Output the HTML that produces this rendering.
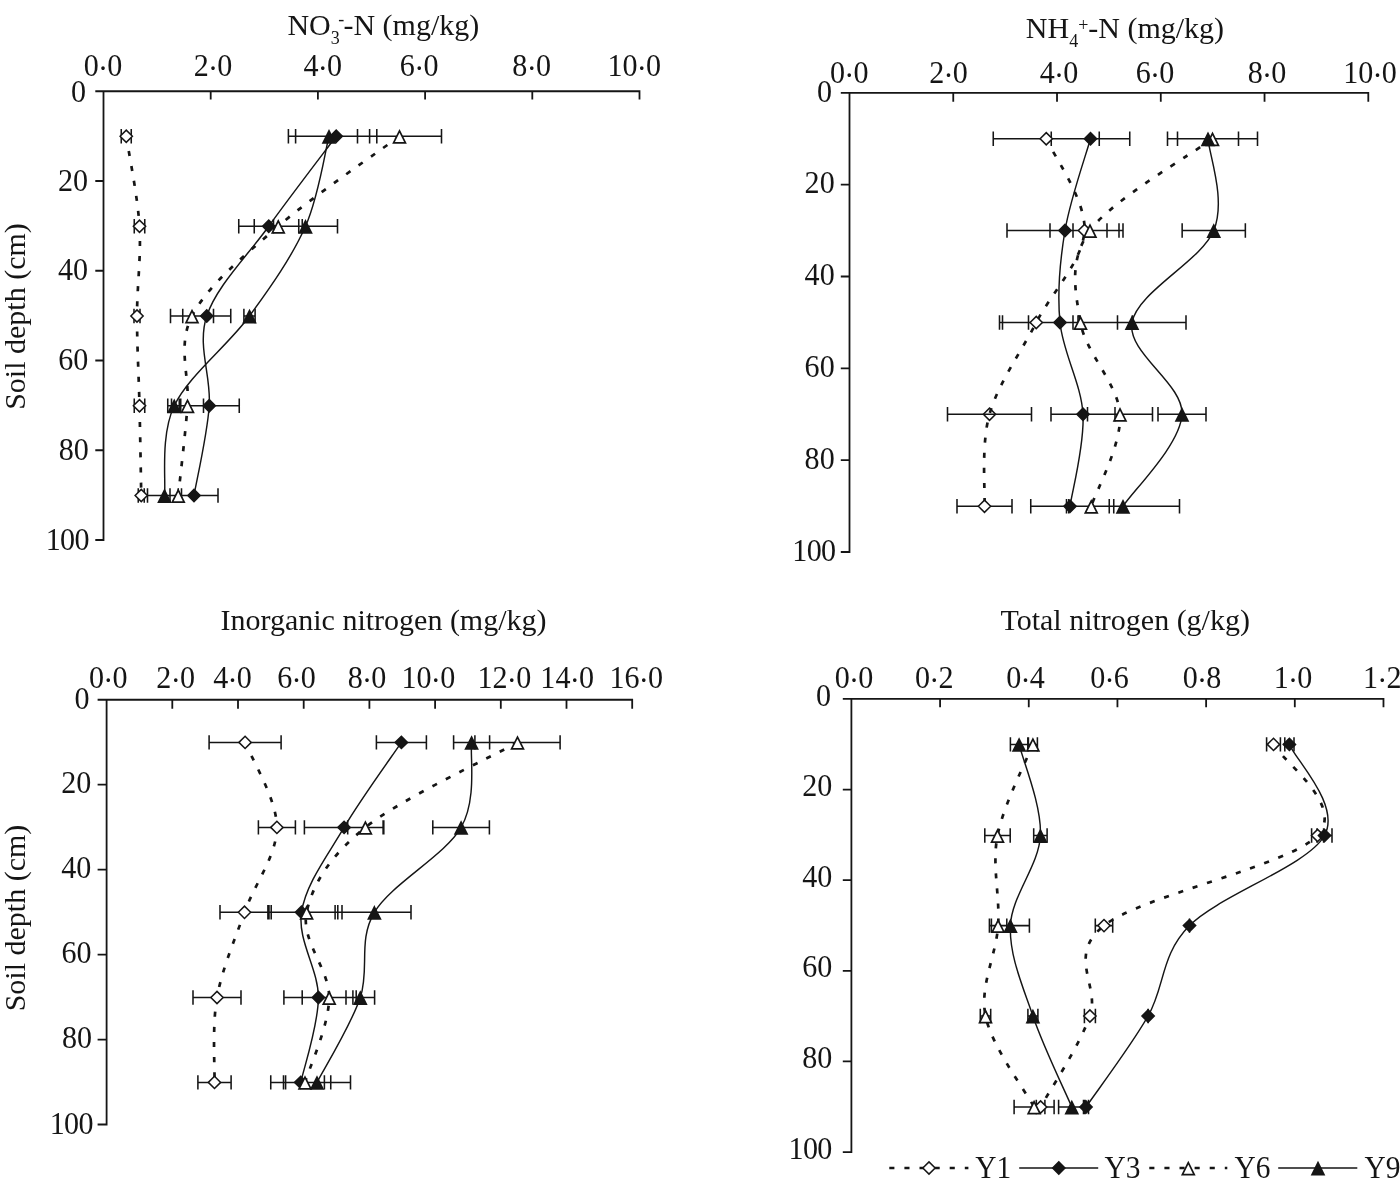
<!DOCTYPE html>
<html><head><meta charset="utf-8"><title>Soil nitrogen profiles</title>
<style>
html,body{margin:0;padding:0;background:#fff}
svg{display:block;filter:grayscale(1)}
text{font-family:"Liberation Serif",serif;fill:#151515}
</style></head>
<body>
<svg width="1400" height="1184" viewBox="0 0 1400 1184">
<rect width="1400" height="1184" fill="#fff"/>
<path d="M95.3 91.25H640.4M103.5 91.25V540.9M210.7 91.25V99.45M317.9 91.25V99.45M425.1 91.25V99.45M532.3 91.25V99.45M639.5 91.25V99.45M95.3 181H103.5M95.3 270.75H103.5M95.3 360.5H103.5M95.3 450.25H103.5M95.3 540H103.5" fill="none" stroke="#151515" stroke-width="1.8"/>
<path d="M121.25 136.25H131.25M121.25 129.05V143.45M131.25 129.05V143.45M134.25 226.25H144.75M134.25 219.05V233.45M144.75 219.05V233.45M134 316H140M134 308.8V323.2M140 308.8V323.2M134.25 405.75H144.75M134.25 398.55V412.95M144.75 398.55V412.95M138.25 495.5H144.25M138.25 488.3V502.7M144.25 488.3V502.7M295.6 136.25H376.8M295.6 129.05V143.45M376.8 129.05V143.45M238.75 226.25H298.75M238.75 219.05V233.45M298.75 219.05V233.45M182.75 316H230.75M182.75 308.8V323.2M230.75 308.8V323.2M179.25 405.75H239.25M179.25 398.55V412.95M239.25 398.55V412.95M170 495.5H218M170 488.3V502.7M218 488.3V502.7M357.5 136.25H441.5M357.5 129.05V143.45M441.5 129.05V143.45M254.25 226.25H302.25M254.25 219.05V233.45M302.25 219.05V233.45M170.5 316H213.5M170.5 308.8V323.2M213.5 308.8V323.2M171.5 405.75H203.5M171.5 398.55V412.95M203.5 398.55V412.95M178.25 495.5H178.25M178.25 488.3V502.7M178.25 488.3V502.7M288.4 136.25H369.6M288.4 129.05V143.45M369.6 129.05V143.45M273.5 226.25H337.5M273.5 219.05V233.45M337.5 219.05V233.45M243.9 316H255.1M243.9 308.8V323.2M255.1 308.8V323.2M167.75 405.75H180.75M167.75 398.55V412.95M180.75 398.55V412.95M147.5 495.5H181.5M147.5 488.3V502.7M181.5 488.3V502.7" fill="none" stroke="#151515" stroke-width="1.55"/>
<path d="M126.25 136.25C128.46 151.25 137.71 196.29 139.5 226.25C141.29 256.21 137 286.08 137 316C137 345.92 138.79 375.83 139.5 405.75C140.21 435.67 140.96 480.54 141.25 495.5" fill="none" stroke="#151515" stroke-width="2.7" stroke-dasharray="5.1 10"/>
<path d="M120.1 136.25l6.15 -6.15l6.15 6.15l-6.15 6.15z" fill="#fff" stroke="#151515" stroke-width="1.5"/>
<path d="M133.35 226.25l6.15 -6.15l6.15 6.15l-6.15 6.15z" fill="#fff" stroke="#151515" stroke-width="1.5"/>
<path d="M130.85 316l6.15 -6.15l6.15 6.15l-6.15 6.15z" fill="#fff" stroke="#151515" stroke-width="1.5"/>
<path d="M133.35 405.75l6.15 -6.15l6.15 6.15l-6.15 6.15z" fill="#fff" stroke="#151515" stroke-width="1.5"/>
<path d="M135.1 495.5l6.15 -6.15l6.15 6.15l-6.15 6.15z" fill="#fff" stroke="#151515" stroke-width="1.5"/>
<path d="M336.2 136.25C324.96 151.25 290.32 196.29 268.75 226.25C247.18 256.21 216.67 286.08 206.75 316C196.83 345.92 211.38 375.83 209.25 405.75C207.12 435.67 196.54 480.54 194 495.5" fill="none" stroke="#151515" stroke-width="1.45"/>
<path d="M330.05 136.25l6.15 -6.15l6.15 6.15l-6.15 6.15z" fill="#151515" stroke="#151515" stroke-width="1.5"/>
<path d="M262.6 226.25l6.15 -6.15l6.15 6.15l-6.15 6.15z" fill="#151515" stroke="#151515" stroke-width="1.5"/>
<path d="M200.6 316l6.15 -6.15l6.15 6.15l-6.15 6.15z" fill="#151515" stroke="#151515" stroke-width="1.5"/>
<path d="M203.1 405.75l6.15 -6.15l6.15 6.15l-6.15 6.15z" fill="#151515" stroke="#151515" stroke-width="1.5"/>
<path d="M187.85 495.5l6.15 -6.15l6.15 6.15l-6.15 6.15z" fill="#151515" stroke="#151515" stroke-width="1.5"/>
<path d="M399.5 136.25C379.29 151.25 312.83 196.29 278.25 226.25C243.67 256.21 207.12 286.08 192 316C176.88 345.92 189.79 375.83 187.5 405.75C185.21 435.67 179.79 480.54 178.25 495.5" fill="none" stroke="#151515" stroke-width="2.7" stroke-dasharray="5.1 10"/>
<path d="M399.5 130.96L405.45 142.81L393.55 142.81z" fill="#fff" stroke="#151515" stroke-width="1.7"/>
<path d="M278.25 220.96L284.2 232.81L272.3 232.81z" fill="#fff" stroke="#151515" stroke-width="1.7"/>
<path d="M192 310.71L197.95 322.56L186.05 322.56z" fill="#fff" stroke="#151515" stroke-width="1.7"/>
<path d="M187.5 400.46L193.45 412.31L181.55 412.31z" fill="#fff" stroke="#151515" stroke-width="1.7"/>
<path d="M178.25 490.21L184.2 502.06L172.3 502.06z" fill="#fff" stroke="#151515" stroke-width="1.7"/>
<path d="M329 136.25C325.08 151.25 318.75 196.29 305.5 226.25C292.25 256.21 271.38 286.08 249.5 316C227.62 345.92 188.42 375.83 174.25 405.75C160.08 435.67 166.12 480.54 164.5 495.5" fill="none" stroke="#151515" stroke-width="1.45"/>
<path d="M329 130.96L334.95 142.81L323.05 142.81z" fill="#151515" stroke="#151515" stroke-width="1.7"/>
<path d="M305.5 220.96L311.45 232.81L299.55 232.81z" fill="#151515" stroke="#151515" stroke-width="1.7"/>
<path d="M249.5 310.71L255.45 322.56L243.55 322.56z" fill="#151515" stroke="#151515" stroke-width="1.7"/>
<path d="M174.25 400.46L180.2 412.31L168.3 412.31z" fill="#151515" stroke="#151515" stroke-width="1.7"/>
<path d="M164.5 490.21L170.45 502.06L158.55 502.06z" fill="#151515" stroke="#151515" stroke-width="1.7"/>
<text transform="translate(83.65 75.6) scale(0.94 1)" font-size="32">0<tspan dx="-0.8" dy="2.9">·</tspan><tspan dx="-0.8" dy="-2.9">0</tspan></text>
<text transform="translate(193.65 75.6) scale(0.94 1)" font-size="32">2<tspan dx="-0.8" dy="2.9">·</tspan><tspan dx="-0.8" dy="-2.9">0</tspan></text>
<text transform="translate(303.55 75.6) scale(0.94 1)" font-size="32">4<tspan dx="-0.8" dy="2.9">·</tspan><tspan dx="-0.8" dy="-2.9">0</tspan></text>
<text transform="translate(399.85 75.6) scale(0.94 1)" font-size="32">6<tspan dx="-0.8" dy="2.9">·</tspan><tspan dx="-0.8" dy="-2.9">0</tspan></text>
<text transform="translate(512.35 75.6) scale(0.94 1)" font-size="32">8<tspan dx="-0.8" dy="2.9">·</tspan><tspan dx="-0.8" dy="-2.9">0</tspan></text>
<text transform="translate(607.45 75.6) scale(0.94 1)" font-size="32">10<tspan dx="-0.8" dy="2.9">·</tspan><tspan dx="-0.8" dy="-2.9">0</tspan></text>
<text transform="translate(71 101.65) scale(0.94 1)" font-size="32">0</text>
<text transform="translate(57.9 190.8) scale(0.94 1)" font-size="32">20</text>
<text transform="translate(57.9 280.25) scale(0.94 1)" font-size="32">40</text>
<text transform="translate(58.2 370.2) scale(0.94 1)" font-size="32">60</text>
<text transform="translate(58.8 459.95) scale(0.94 1)" font-size="32">80</text>
<text transform="translate(45.7 549.7) scale(0.94 1)" font-size="32" letter-spacing="-0.7">100</text>
<path d="M840.8 92.8H1369.2M849.5 92.8V552.9M953.26 92.8V101.8M1057.02 92.8V101.8M1160.78 92.8V101.8M1264.54 92.8V101.8M1368.3 92.8V101.8M840.8 184.64H849.5M840.8 276.48H849.5M840.8 368.32H849.5M840.8 460.16H849.5M840.8 552H849.5" fill="none" stroke="#151515" stroke-width="1.8"/>
<path d="M993.25 138.75H1099.25M993.25 131.55V145.95M1099.25 131.55V145.95M1050 230.5H1119M1050 223.3V237.7M1119 223.3V237.7M999.5 322.5H1073M999.5 315.3V329.7M1073 315.3V329.7M947.5 414.25H1031.5M947.5 407.05V421.45M1031.5 407.05V421.45M957 506.25H1012M957 499.05V513.45M1012 499.05V513.45M1051.25 138.75H1129.75M1051.25 131.55V145.95M1129.75 131.55V145.95M1007 230.5H1123M1007 223.3V237.7M1123 223.3V237.7M1002.5 322.5H1117.5M1002.5 315.3V329.7M1117.5 315.3V329.7M1051 414.25H1115M1051 407.05V421.45M1115 407.05V421.45M1030.75 506.25H1109.25M1030.75 499.05V513.45M1109.25 499.05V513.45M1167.5 138.75H1257.5M1167.5 131.55V145.95M1257.5 131.55V145.95M1073 230.5H1107M1073 223.3V237.7M1107 223.3V237.7M1028.5 322.5H1132.5M1028.5 315.3V329.7M1132.5 315.3V329.7M1087.5 414.25H1152.5M1087.5 407.05V421.45M1152.5 407.05V421.45M1068.75 506.25H1113.75M1068.75 499.05V513.45M1113.75 499.05V513.45M1177.5 138.75H1238.5M1177.5 131.55V145.95M1238.5 131.55V145.95M1182.15 230.5H1245.35M1182.15 223.3V237.7M1245.35 223.3V237.7M1078 322.5H1186M1078 315.3V329.7M1186 315.3V329.7M1158 414.25H1206M1158 407.05V421.45M1206 407.05V421.45M1066.5 506.25H1179.5M1066.5 499.05V513.45M1179.5 499.05V513.45" fill="none" stroke="#151515" stroke-width="1.55"/>
<path d="M1046.25 138.75C1052.62 154.04 1086.17 199.88 1084.5 230.5C1082.83 261.12 1052.08 291.88 1036.25 322.5C1020.42 353.12 998.12 383.62 989.5 414.25C980.88 444.88 985.33 490.92 984.5 506.25" fill="none" stroke="#151515" stroke-width="2.7" stroke-dasharray="5.1 10"/>
<path d="M1040.1 138.75l6.15 -6.15l6.15 6.15l-6.15 6.15z" fill="#fff" stroke="#151515" stroke-width="1.5"/>
<path d="M1078.35 230.5l6.15 -6.15l6.15 6.15l-6.15 6.15z" fill="#fff" stroke="#151515" stroke-width="1.5"/>
<path d="M1030.1 322.5l6.15 -6.15l6.15 6.15l-6.15 6.15z" fill="#fff" stroke="#151515" stroke-width="1.5"/>
<path d="M983.35 414.25l6.15 -6.15l6.15 6.15l-6.15 6.15z" fill="none" stroke="#151515" stroke-width="1.5"/>
<path d="M978.35 506.25l6.15 -6.15l6.15 6.15l-6.15 6.15z" fill="#fff" stroke="#151515" stroke-width="1.5"/>
<path d="M1090.5 138.75C1086.25 154.04 1070.08 199.88 1065 230.5C1059.92 261.12 1057 291.88 1060 322.5C1063 353.12 1081.33 383.62 1083 414.25C1084.67 444.88 1072.17 490.92 1070 506.25" fill="none" stroke="#151515" stroke-width="1.45"/>
<path d="M1084.35 138.75l6.15 -6.15l6.15 6.15l-6.15 6.15z" fill="#151515" stroke="#151515" stroke-width="1.5"/>
<path d="M1058.85 230.5l6.15 -6.15l6.15 6.15l-6.15 6.15z" fill="#151515" stroke="#151515" stroke-width="1.5"/>
<path d="M1053.85 322.5l6.15 -6.15l6.15 6.15l-6.15 6.15z" fill="#151515" stroke="#151515" stroke-width="1.5"/>
<path d="M1076.85 414.25l6.15 -6.15l6.15 6.15l-6.15 6.15z" fill="#151515" stroke="#151515" stroke-width="1.5"/>
<path d="M1063.85 506.25l6.15 -6.15l6.15 6.15l-6.15 6.15z" fill="#151515" stroke="#151515" stroke-width="1.5"/>
<path d="M1212.5 138.75C1192.08 154.04 1112 199.88 1090 230.5C1068 261.12 1075.5 291.88 1080.5 322.5C1085.5 353.12 1118.21 383.62 1120 414.25C1121.79 444.88 1096.04 490.92 1091.25 506.25" fill="none" stroke="#151515" stroke-width="2.7" stroke-dasharray="5.1 10"/>
<path d="M1212.5 133.46L1218.45 145.31L1206.55 145.31z" fill="#fff" stroke="#151515" stroke-width="1.7"/>
<path d="M1090 225.21L1095.95 237.06L1084.05 237.06z" fill="#fff" stroke="#151515" stroke-width="1.7"/>
<path d="M1080.5 317.21L1086.45 329.06L1074.55 329.06z" fill="#fff" stroke="#151515" stroke-width="1.7"/>
<path d="M1120 408.96L1125.95 420.81L1114.05 420.81z" fill="#fff" stroke="#151515" stroke-width="1.7"/>
<path d="M1091.25 500.96L1097.2 512.81L1085.3 512.81z" fill="#fff" stroke="#151515" stroke-width="1.7"/>
<path d="M1208 138.75C1208.96 154.04 1226.42 199.88 1213.75 230.5C1201.08 261.12 1137.29 291.88 1132 322.5C1126.71 353.12 1183.5 383.62 1182 414.25C1180.5 444.88 1132.83 490.92 1123 506.25" fill="none" stroke="#151515" stroke-width="1.45"/>
<path d="M1208 133.46L1213.95 145.31L1202.05 145.31z" fill="#151515" stroke="#151515" stroke-width="1.7"/>
<path d="M1213.75 225.21L1219.7 237.06L1207.8 237.06z" fill="#151515" stroke="#151515" stroke-width="1.7"/>
<path d="M1132 317.21L1137.95 329.06L1126.05 329.06z" fill="#151515" stroke="#151515" stroke-width="1.7"/>
<path d="M1182 408.96L1187.95 420.81L1176.05 420.81z" fill="#151515" stroke="#151515" stroke-width="1.7"/>
<path d="M1123 500.96L1128.95 512.81L1117.05 512.81z" fill="#151515" stroke="#151515" stroke-width="1.7"/>
<text transform="translate(830.05 83.1) scale(0.94 1)" font-size="32">0<tspan dx="-0.8" dy="2.9">·</tspan><tspan dx="-0.8" dy="-2.9">0</tspan></text>
<text transform="translate(929.15 83.1) scale(0.94 1)" font-size="32">2<tspan dx="-0.8" dy="2.9">·</tspan><tspan dx="-0.8" dy="-2.9">0</tspan></text>
<text transform="translate(1039.65 83.1) scale(0.94 1)" font-size="32">4<tspan dx="-0.8" dy="2.9">·</tspan><tspan dx="-0.8" dy="-2.9">0</tspan></text>
<text transform="translate(1135.75 83.1) scale(0.94 1)" font-size="32">6<tspan dx="-0.8" dy="2.9">·</tspan><tspan dx="-0.8" dy="-2.9">0</tspan></text>
<text transform="translate(1247.75 83.1) scale(0.94 1)" font-size="32">8<tspan dx="-0.8" dy="2.9">·</tspan><tspan dx="-0.8" dy="-2.9">0</tspan></text>
<text transform="translate(1343.25 83.1) scale(0.94 1)" font-size="32">10<tspan dx="-0.8" dy="2.9">·</tspan><tspan dx="-0.8" dy="-2.9">0</tspan></text>
<text transform="translate(816.9 102.3) scale(0.94 1)" font-size="32">0</text>
<text transform="translate(804.6 193.44) scale(0.94 1)" font-size="32">20</text>
<text transform="translate(804.6 285.28) scale(0.94 1)" font-size="32">40</text>
<text transform="translate(804.6 377.12) scale(0.94 1)" font-size="32">60</text>
<text transform="translate(804.6 468.96) scale(0.94 1)" font-size="32">80</text>
<text transform="translate(792.3 561) scale(0.94 1)" font-size="32" letter-spacing="-0.7">100</text>
<path d="M97.6 699.75H633.1M106.6 699.75V1125.4M172.3 699.75V708.75M238 699.75V708.75M303.7 699.75V708.75M369.4 699.75V708.75M435.1 699.75V708.75M500.8 699.75V708.75M566.5 699.75V708.75M632.2 699.75V708.75M97.6 784.7H106.6M97.6 869.65H106.6M97.6 954.6H106.6M97.6 1039.55H106.6M97.6 1124.5H106.6" fill="none" stroke="#151515" stroke-width="1.8"/>
<path d="M209.1 742.4H281.1M209.1 735.2V749.6M281.1 735.2V749.6M258.4 827.4H295.4M258.4 820.2V834.6M295.4 820.2V834.6M220 912.3H269M220 905.1V919.5M269 905.1V919.5M193 997.5H241M193 990.3V1004.7M241 990.3V1004.7M197.9 1082.4H231.1M197.9 1075.2V1089.6M231.1 1075.2V1089.6M376.4 742.4H426.4M376.4 735.2V749.6M426.4 735.2V749.6M304.4 827.4H383.8M304.4 820.2V834.6M383.8 820.2V834.6M267.9 912.3H335.1M267.9 905.1V919.5M335.1 905.1V919.5M283.9 997.5H352.9M283.9 990.3V1004.7M352.9 990.3V1004.7M270.75 1082.4H330.75M270.75 1075.2V1089.6M330.75 1075.2V1089.6M474.9 742.4H560.1M474.9 735.2V749.6M560.1 735.2V749.6M347.7 827.4H383.1M347.7 820.2V834.6M383.1 820.2V834.6M271.2 912.3H342M271.2 905.1V919.5M342 905.1V919.5M302.2 997.5H356.2M302.2 990.3V1004.7M356.2 990.3V1004.7M285.6 1082.4H324.4M285.6 1075.2V1089.6M324.4 1075.2V1089.6M453.6 742.4H489.6M453.6 735.2V749.6M489.6 735.2V749.6M432.8 827.4H489.4M432.8 820.2V834.6M489.4 820.2V834.6M337.8 912.3H411M337.8 905.1V919.5M411 905.1V919.5M346 997.5H374.6M346 990.3V1004.7M374.6 990.3V1004.7M283.5 1082.4H350.5M283.5 1075.2V1089.6M350.5 1075.2V1089.6" fill="none" stroke="#151515" stroke-width="1.55"/>
<path d="M245.1 742.4C250.4 756.57 277 799.08 276.9 827.4C276.8 855.72 254.48 883.95 244.5 912.3C234.52 940.65 222 969.15 217 997.5C212 1025.85 214.92 1068.25 214.5 1082.4" fill="none" stroke="#151515" stroke-width="2.7" stroke-dasharray="5.1 10"/>
<path d="M238.95 742.4l6.15 -6.15l6.15 6.15l-6.15 6.15z" fill="#fff" stroke="#151515" stroke-width="1.5"/>
<path d="M270.75 827.4l6.15 -6.15l6.15 6.15l-6.15 6.15z" fill="#fff" stroke="#151515" stroke-width="1.5"/>
<path d="M238.35 912.3l6.15 -6.15l6.15 6.15l-6.15 6.15z" fill="#fff" stroke="#151515" stroke-width="1.5"/>
<path d="M210.85 997.5l6.15 -6.15l6.15 6.15l-6.15 6.15z" fill="#fff" stroke="#151515" stroke-width="1.5"/>
<path d="M208.35 1082.4l6.15 -6.15l6.15 6.15l-6.15 6.15z" fill="#fff" stroke="#151515" stroke-width="1.5"/>
<path d="M401.4 742.4C391.85 756.57 360.75 799.08 344.1 827.4C327.45 855.72 305.78 883.95 301.5 912.3C297.22 940.65 318.52 969.15 318.4 997.5C318.27 1025.85 303.69 1068.25 300.75 1082.4" fill="none" stroke="#151515" stroke-width="1.45"/>
<path d="M395.25 742.4l6.15 -6.15l6.15 6.15l-6.15 6.15z" fill="#151515" stroke="#151515" stroke-width="1.5"/>
<path d="M337.95 827.4l6.15 -6.15l6.15 6.15l-6.15 6.15z" fill="#151515" stroke="#151515" stroke-width="1.5"/>
<path d="M295.35 912.3l6.15 -6.15l6.15 6.15l-6.15 6.15z" fill="#151515" stroke="#151515" stroke-width="1.5"/>
<path d="M312.25 997.5l6.15 -6.15l6.15 6.15l-6.15 6.15z" fill="#151515" stroke="#151515" stroke-width="1.5"/>
<path d="M294.6 1082.4l6.15 -6.15l6.15 6.15l-6.15 6.15z" fill="#151515" stroke="#151515" stroke-width="1.5"/>
<path d="M517.5 742.4C492.15 756.57 400.55 799.08 365.4 827.4C330.25 855.72 312.63 883.95 306.6 912.3C300.57 940.65 329.47 969.15 329.2 997.5C328.93 1025.85 309.03 1068.25 305 1082.4" fill="none" stroke="#151515" stroke-width="2.7" stroke-dasharray="5.1 10"/>
<path d="M517.5 737.11L523.45 748.96L511.55 748.96z" fill="#fff" stroke="#151515" stroke-width="1.7"/>
<path d="M365.4 822.11L371.35 833.96L359.45 833.96z" fill="#fff" stroke="#151515" stroke-width="1.7"/>
<path d="M306.6 907.01L312.55 918.86L300.65 918.86z" fill="#fff" stroke="#151515" stroke-width="1.7"/>
<path d="M329.2 992.21L335.15 1004.06L323.25 1004.06z" fill="#fff" stroke="#151515" stroke-width="1.7"/>
<path d="M305 1077.11L310.95 1088.96L299.05 1088.96z" fill="#fff" stroke="#151515" stroke-width="1.7"/>
<path d="M471.6 742.4C469.85 756.57 477.3 799.08 461.1 827.4C444.9 855.72 391.2 883.95 374.4 912.3C357.6 940.65 369.87 969.15 360.3 997.5C350.73 1025.85 324.22 1068.25 317 1082.4" fill="none" stroke="#151515" stroke-width="1.45"/>
<path d="M471.6 737.11L477.55 748.96L465.65 748.96z" fill="#151515" stroke="#151515" stroke-width="1.7"/>
<path d="M461.1 822.11L467.05 833.96L455.15 833.96z" fill="#151515" stroke="#151515" stroke-width="1.7"/>
<path d="M374.4 907.01L380.35 918.86L368.45 918.86z" fill="#151515" stroke="#151515" stroke-width="1.7"/>
<path d="M360.3 992.21L366.25 1004.06L354.35 1004.06z" fill="#151515" stroke="#151515" stroke-width="1.7"/>
<path d="M317 1077.11L322.95 1088.96L311.05 1088.96z" fill="#151515" stroke="#151515" stroke-width="1.7"/>
<text transform="translate(89.05 687.6) scale(0.94 1)" font-size="32">0<tspan dx="-0.8" dy="2.9">·</tspan><tspan dx="-0.8" dy="-2.9">0</tspan></text>
<text transform="translate(156.35 687.6) scale(0.94 1)" font-size="32">2<tspan dx="-0.8" dy="2.9">·</tspan><tspan dx="-0.8" dy="-2.9">0</tspan></text>
<text transform="translate(213.25 687.6) scale(0.94 1)" font-size="32">4<tspan dx="-0.8" dy="2.9">·</tspan><tspan dx="-0.8" dy="-2.9">0</tspan></text>
<text transform="translate(277.25 687.6) scale(0.94 1)" font-size="32">6<tspan dx="-0.8" dy="2.9">·</tspan><tspan dx="-0.8" dy="-2.9">0</tspan></text>
<text transform="translate(347.75 687.6) scale(0.94 1)" font-size="32">8<tspan dx="-0.8" dy="2.9">·</tspan><tspan dx="-0.8" dy="-2.9">0</tspan></text>
<text transform="translate(401.55 687.6) scale(0.94 1)" font-size="32">10<tspan dx="-0.8" dy="2.9">·</tspan><tspan dx="-0.8" dy="-2.9">0</tspan></text>
<text transform="translate(477.55 687.6) scale(0.94 1)" font-size="32">12<tspan dx="-0.8" dy="2.9">·</tspan><tspan dx="-0.8" dy="-2.9">0</tspan></text>
<text transform="translate(540.35 687.6) scale(0.94 1)" font-size="32">14<tspan dx="-0.8" dy="2.9">·</tspan><tspan dx="-0.8" dy="-2.9">0</tspan></text>
<text transform="translate(609.45 687.6) scale(0.94 1)" font-size="32">16<tspan dx="-0.8" dy="2.9">·</tspan><tspan dx="-0.8" dy="-2.9">0</tspan></text>
<text transform="translate(74.6 708.95) scale(0.94 1)" font-size="32">0</text>
<text transform="translate(61.2 793.4) scale(0.94 1)" font-size="32">20</text>
<text transform="translate(61.2 878.35) scale(0.94 1)" font-size="32">40</text>
<text transform="translate(61.4 963.2) scale(0.94 1)" font-size="32">60</text>
<text transform="translate(62 1048.25) scale(0.94 1)" font-size="32">80</text>
<text transform="translate(49.7 1133.5) scale(0.94 1)" font-size="32" letter-spacing="-0.7">100</text>
<path d="M842.8 698.9H1384.38M851.4 698.9V1153M940.08 698.9V707.2M1028.76 698.9V707.2M1117.44 698.9V707.2M1206.12 698.9V707.2M1294.8 698.9V707.2M1383.48 698.9V707.2M842.8 789.54H851.4M842.8 880.18H851.4M842.8 970.82H851.4M842.8 1061.46H851.4M842.8 1152.1H851.4" fill="none" stroke="#151515" stroke-width="1.8"/>
<path d="M1266.6 744.4H1280.4M1266.6 737.2V751.6M1280.4 737.2V751.6M1311.6 835.5H1323.6M1311.6 828.3V842.7M1323.6 828.3V842.7M1095.3 925.6H1112.7M1095.3 918.4V932.8M1112.7 918.4V932.8M1084.4 1016H1095.4M1084.4 1008.8V1023.2M1095.4 1008.8V1023.2M1036.3 1107H1044.9M1036.3 1099.8V1114.2M1044.9 1099.8V1114.2M1284.8 744.4H1294M1284.8 737.2V751.6M1294 737.2V751.6M1317 835.5H1332M1317 828.3V842.7M1332 828.3V842.7M1189.5 925.6H1189.5M1189.5 918.4V932.8M1189.5 918.4V932.8M1148.1 1016H1148.1M1148.1 1008.8V1023.2M1148.1 1008.8V1023.2M1083.5 1107H1088.5M1083.5 1099.8V1114.2M1088.5 1099.8V1114.2M1028.4 744.4H1037.4M1028.4 737.2V751.6M1037.4 737.2V751.6M984.8 835.5H1010.2M984.8 828.3V842.7M1010.2 828.3V842.7M989.4 925.6H1006.8M989.4 918.4V932.8M1006.8 918.4V932.8M980.3 1016H990.7M980.3 1008.8V1023.2M990.7 1008.8V1023.2M1014.1 1107H1054.1M1014.1 1099.8V1114.2M1054.1 1099.8V1114.2M1010.4 744.4H1027.8M1010.4 737.2V751.6M1027.8 737.2V751.6M1033.7 835.5H1047.1M1033.7 828.3V842.7M1047.1 828.3V842.7M991.4 925.6H1029.4M991.4 918.4V932.8M1029.4 918.4V932.8M1027.9 1016H1037.9M1027.9 1008.8V1023.2M1037.9 1008.8V1023.2M1058.6 1107H1085M1058.6 1099.8V1114.2M1085 1099.8V1114.2" fill="none" stroke="#151515" stroke-width="1.55"/>
<path d="M1273.5 744.4C1280.85 759.58 1345.85 805.3 1317.6 835.5C1289.35 865.7 1141.95 895.52 1104 925.6C1066.05 955.68 1100.47 985.77 1089.9 1016C1079.33 1046.23 1048.82 1091.83 1040.6 1107" fill="none" stroke="#151515" stroke-width="2.7" stroke-dasharray="5.1 10"/>
<path d="M1267.35 744.4l6.15 -6.15l6.15 6.15l-6.15 6.15z" fill="#fff" stroke="#151515" stroke-width="1.5"/>
<path d="M1311.45 835.5l6.15 -6.15l6.15 6.15l-6.15 6.15z" fill="#fff" stroke="#151515" stroke-width="1.5"/>
<path d="M1097.85 925.6l6.15 -6.15l6.15 6.15l-6.15 6.15z" fill="#fff" stroke="#151515" stroke-width="1.5"/>
<path d="M1083.75 1016l6.15 -6.15l6.15 6.15l-6.15 6.15z" fill="#fff" stroke="#151515" stroke-width="1.5"/>
<path d="M1034.45 1107l6.15 -6.15l6.15 6.15l-6.15 6.15z" fill="#fff" stroke="#151515" stroke-width="1.5"/>
<path d="M1289.4 744.4C1295.25 759.58 1341.15 805.3 1324.5 835.5C1307.85 865.7 1218.9 895.52 1189.5 925.6C1160.1 955.68 1165.35 985.77 1148.1 1016C1130.85 1046.23 1096.35 1091.83 1086 1107" fill="none" stroke="#151515" stroke-width="1.45"/>
<path d="M1283.25 744.4l6.15 -6.15l6.15 6.15l-6.15 6.15z" fill="#151515" stroke="#151515" stroke-width="1.5"/>
<path d="M1318.35 835.5l6.15 -6.15l6.15 6.15l-6.15 6.15z" fill="#151515" stroke="#151515" stroke-width="1.5"/>
<path d="M1183.35 925.6l6.15 -6.15l6.15 6.15l-6.15 6.15z" fill="#151515" stroke="#151515" stroke-width="1.5"/>
<path d="M1141.95 1016l6.15 -6.15l6.15 6.15l-6.15 6.15z" fill="#151515" stroke="#151515" stroke-width="1.5"/>
<path d="M1079.85 1107l6.15 -6.15l6.15 6.15l-6.15 6.15z" fill="#151515" stroke="#151515" stroke-width="1.5"/>
<path d="M1032.9 744.4C1027 759.58 1003.3 805.3 997.5 835.5C991.7 865.7 1000.1 895.52 998.1 925.6C996.1 955.68 979.5 985.77 985.5 1016C991.5 1046.23 1026 1091.83 1034.1 1107" fill="none" stroke="#151515" stroke-width="2.7" stroke-dasharray="5.1 10"/>
<path d="M1032.9 739.11L1038.85 750.96L1026.95 750.96z" fill="#fff" stroke="#151515" stroke-width="1.7"/>
<path d="M997.5 830.21L1003.45 842.06L991.55 842.06z" fill="#fff" stroke="#151515" stroke-width="1.7"/>
<path d="M998.1 920.31L1004.05 932.16L992.15 932.16z" fill="#fff" stroke="#151515" stroke-width="1.7"/>
<path d="M985.5 1010.71L991.45 1022.56L979.55 1022.56z" fill="#fff" stroke="#151515" stroke-width="1.7"/>
<path d="M1034.1 1101.71L1040.05 1113.56L1028.15 1113.56z" fill="#fff" stroke="#151515" stroke-width="1.7"/>
<path d="M1019.1 744.4C1022.65 759.58 1041.85 805.3 1040.4 835.5C1038.95 865.7 1011.65 895.52 1010.4 925.6C1009.15 955.68 1022.67 985.77 1032.9 1016C1043.13 1046.23 1065.32 1091.83 1071.8 1107" fill="none" stroke="#151515" stroke-width="1.45"/>
<path d="M1019.1 739.11L1025.05 750.96L1013.15 750.96z" fill="#151515" stroke="#151515" stroke-width="1.7"/>
<path d="M1040.4 830.21L1046.35 842.06L1034.45 842.06z" fill="#151515" stroke="#151515" stroke-width="1.7"/>
<path d="M1010.4 920.31L1016.35 932.16L1004.45 932.16z" fill="#151515" stroke="#151515" stroke-width="1.7"/>
<path d="M1032.9 1010.71L1038.85 1022.56L1026.95 1022.56z" fill="#151515" stroke="#151515" stroke-width="1.7"/>
<path d="M1071.8 1101.71L1077.75 1113.56L1065.85 1113.56z" fill="#151515" stroke="#151515" stroke-width="1.7"/>
<text transform="translate(834.65 687.6) scale(0.94 1)" font-size="32">0<tspan dx="-0.8" dy="2.9">·</tspan><tspan dx="-0.8" dy="-2.9">0</tspan></text>
<text transform="translate(915.05 687.6) scale(0.94 1)" font-size="32">0<tspan dx="-0.8" dy="2.9">·</tspan><tspan dx="-0.8" dy="-2.9">2</tspan></text>
<text transform="translate(1006.25 687.6) scale(0.94 1)" font-size="32">0<tspan dx="-0.8" dy="2.9">·</tspan><tspan dx="-0.8" dy="-2.9">4</tspan></text>
<text transform="translate(1090.25 687.6) scale(0.94 1)" font-size="32">0<tspan dx="-0.8" dy="2.9">·</tspan><tspan dx="-0.8" dy="-2.9">6</tspan></text>
<text transform="translate(1182.75 687.6) scale(0.94 1)" font-size="32">0<tspan dx="-0.8" dy="2.9">·</tspan><tspan dx="-0.8" dy="-2.9">8</tspan></text>
<text transform="translate(1273.75 687.6) scale(0.94 1)" font-size="32">1<tspan dx="-0.8" dy="2.9">·</tspan><tspan dx="-0.8" dy="-2.9">0</tspan></text>
<text transform="translate(1362.95 687.6) scale(0.94 1)" font-size="32">1<tspan dx="-0.8" dy="2.9">·</tspan><tspan dx="-0.8" dy="-2.9">2</tspan></text>
<text transform="translate(816.1 705.6) scale(0.94 1)" font-size="32">0</text>
<text transform="translate(802.2 796.14) scale(0.94 1)" font-size="32">20</text>
<text transform="translate(802.2 886.78) scale(0.94 1)" font-size="32">40</text>
<text transform="translate(802.2 977.42) scale(0.94 1)" font-size="32">60</text>
<text transform="translate(802.2 1068.06) scale(0.94 1)" font-size="32">80</text>
<text transform="translate(788.5 1158.7) scale(0.94 1)" font-size="32" letter-spacing="-0.7">100</text>
<text x="287.4" y="35" font-size="30">NO<tspan font-size="18" dy="9.4">3</tspan><tspan font-size="18" dy="-19.6" dx="-1.5">-</tspan><tspan dy="10.2" dx="-0.8">-N (mg/kg)</tspan></text>
<text x="1025.8" y="37.8" font-size="30">NH<tspan font-size="18" dy="9.4">4</tspan><tspan font-size="18" dy="-16.6">+</tspan><tspan dy="7.2">-N (mg/kg)</tspan></text>
<text x="220.5" y="630.4" font-size="30">Inorganic nitrogen (mg/kg)</text>
<text x="1000.45" y="630.4" font-size="30">Total nitrogen (g/kg)</text>
<text transform="translate(24.9 316.5) rotate(-90)" text-anchor="middle" font-size="30">Soil depth (cm)</text>
<text transform="translate(24.9 918) rotate(-90)" text-anchor="middle" font-size="30">Soil depth (cm)</text>
<path d="M889.3 1168H968.4" fill="none" stroke="#151515" stroke-width="2.7" stroke-dasharray="5.1 10"/>
<path d="M922.85 1168l6.15 -6.15l6.15 6.15l-6.15 6.15z" fill="#fff" stroke="#151515" stroke-width="1.5"/>
<text transform="translate(975.3 1178.2) scale(0.95 1)" font-size="31">Y1</text>
<path d="M1019.2 1168H1098.2" fill="none" stroke="#151515" stroke-width="1.45"/>
<path d="M1052.65 1168l6.15 -6.15l6.15 6.15l-6.15 6.15z" fill="#151515" stroke="#151515" stroke-width="1.5"/>
<text transform="translate(1104.5 1178.2) scale(0.95 1)" font-size="31">Y3</text>
<path d="M1149.3 1168H1227.3" fill="none" stroke="#151515" stroke-width="2.7" stroke-dasharray="5.1 10"/>
<path d="M1188.3 1162.71L1194.25 1174.56L1182.35 1174.56z" fill="#fff" stroke="#151515" stroke-width="1.7"/>
<text transform="translate(1234.5 1178.2) scale(0.95 1)" font-size="31">Y6</text>
<path d="M1278.2 1168H1357.3" fill="none" stroke="#151515" stroke-width="1.45"/>
<path d="M1318 1162.71L1323.95 1174.56L1312.05 1174.56z" fill="#151515" stroke="#151515" stroke-width="1.7"/>
<text transform="translate(1364.5 1178.2) scale(0.95 1)" font-size="31">Y9</text>
</svg>
</body></html>
